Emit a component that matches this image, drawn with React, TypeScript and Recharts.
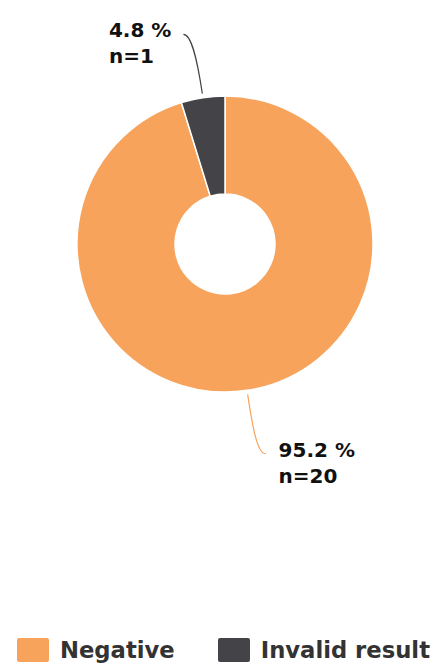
import React from "react";
import { PieChart, Pie, Cell, Legend } from "recharts";

const categories = ["Negative", "Invalid result"];
const counts = [20, 1];
const percents = [95.2, 4.8];
const colors = ["#f7a35c", "#434348"];

const data = categories.map((name, i) => ({
  name,
  value: counts[i],
  pct: percents[i],
  color: colors[i],
}));

const RADIAN = Math.PI / 180;
const FONT = "'DejaVu Sans', Verdana, sans-serif";
const LABEL_SIZE = 20;

// rough DejaVu Sans Bold advance widths (em)
const charW: Record<string, number> = { ".": 0.38, " ": 0.348, "%": 1.002, n: 0.712, "=": 0.838 };
const textWidth = (s: string, size: number) =>
  s.split("").reduce((w, ch) => w + (charW[ch] ?? 0.696), 0) * size;

// label with curved connector, lines left aligned like the original
const renderLabel = (props: any) => {
  const { cx, cy, midAngle, outerRadius, payload, index } = props;
  const cos = Math.cos(-RADIAN * midAngle);
  const sin = Math.sin(-RADIAN * midAngle);
  const right = cos >= 0;
  const sx = cx + (outerRadius + 4) * cos;
  const sy = cy + (outerRadius + 4) * sin;
  const c1x = cx + (outerRadius + 40) * cos;
  const c1y = cy + (outerRadius + 40) * sin;
  const ex = cx + (outerRadius + 64) * cos + (right ? 9 : -10);
  const ey = cy + (outerRadius + 64) * sin;
  const c2x = ex + (right ? -8 : 8);
  const line1 = `${payload.pct.toFixed(1)} %`;
  const line2 = `n=${payload.value}`;
  const w = Math.max(textWidth(line1, LABEL_SIZE), textWidth(line2, LABEL_SIZE));
  const tx = right ? ex + 13 : ex - 12 - w;
  const color = colors[index];
  return (
    <g>
      <path
        d={`M${sx},${sy} C${c1x},${c1y} ${c2x},${ey} ${ex},${ey}`}
        stroke={color}
        strokeWidth={1.2}
        fill="none"
      />
      <text
        x={tx}
        y={ey - 4}
        textAnchor="start"
        dominantBaseline="central"
        fontFamily={FONT}
        fontWeight="bold"
        fontSize={LABEL_SIZE}
        fill="#111"
      >
        <tspan x={tx}>{line1}</tspan>
        <tspan x={tx} dy={26}>{line2}</tspan>
      </text>
    </g>
  );
};

const renderLegend = () => (
  <div style={{ display: "flex", alignItems: "center", paddingLeft: 17, fontFamily: FONT }}>
    {data.map((d, i) => (
      <div key={d.name} style={{ display: "flex", alignItems: "center", marginRight: i === 0 ? 43 : 0 }}>
        <div style={{ width: 32, height: 24, background: d.color, borderRadius: 2, marginRight: 11 }} />
        <span style={{ fontSize: 22.7, fontWeight: "bold", color: "#333", lineHeight: "28px" }}>{d.name}</span>
      </div>
    ))}
  </div>
);

export default function App() {
  return (
    <div style={{ position: "absolute", left: 0, top: 0 }}>
      <PieChart width={435} height={669} margin={{ top: 0, right: 0, bottom: 0, left: 0 }}>
        <Pie
          data={data}
          dataKey="value"
          nameKey="name"
          cx={225}
          cy={244}
          innerRadius={50}
          outerRadius={148}
          startAngle={90}
          endAngle={-270}
          stroke="#ffffff"
          strokeWidth={1.5}
          label={renderLabel}
          labelLine={false}
          isAnimationActive={false}
        >
          {data.map((d) => (
            <Cell key={d.name} fill={d.color} />
          ))}
        </Pie>
        <Legend
          content={renderLegend}
          wrapperStyle={{ position: "absolute", left: 0, top: 636, width: 435 }}
        />
      </PieChart>
    </div>
  );
}
